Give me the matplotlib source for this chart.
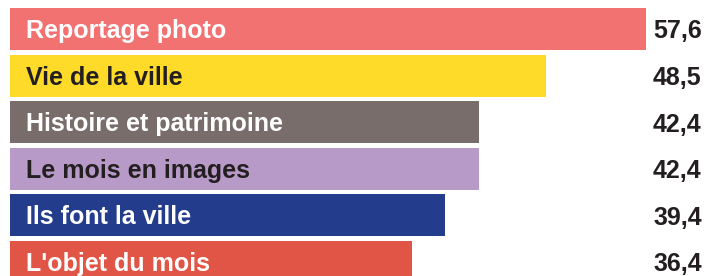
import matplotlib
matplotlib.use("Agg")
import matplotlib.pyplot as plt

categories = ["Reportage photo", "Vie de la ville", "Histoire et patrimoine",
              "Le mois en images", "Ils font la ville", "L'objet du mois"]
values = [57.6, 48.5, 42.4, 42.4, 39.4, 36.4]
value_labels = ["57,6", "48,5", "42,4", "42,4", "39,4", "36,4"]
bar_colors = ["#F27272", "#FDDB28", "#786D6A", "#B89AC8", "#233D8C", "#E05545"]
text_colors = ["white", "#231F20", "white", "#231F20", "white", "white"]

W, H = 705, 276
fig = plt.figure(figsize=(W / 100, H / 100), dpi=100)
ax = fig.add_axes([0, 0, 1, 1])
ax.set_axis_off()

scale = 11.05  # px per unit
ax.set_xlim(-10 / scale, (W - 10) / scale)
pitch = 46.6
ax.set_ylim(5 + 14 / pitch, -29 / pitch)

ys = list(range(len(values)))
ax.barh(ys, values, height=0.9, color=bar_colors, left=0)

font = "Liberation Sans"
for y, cat, tc, vl in zip(ys, categories, text_colors, value_labels):
    ax.annotate(cat, xy=(0, y), xytext=(11.5, -6.5), textcoords="offset points",
                ha="left", va="baseline", fontsize=18, fontweight="bold",
                color=tc, family=font)
    ax.annotate(vl, xy=(653 / W, y), xycoords=ax.get_yaxis_transform(),
                xytext=(0, -6.8), textcoords="offset points",
                ha="left", va="baseline", fontsize=18, fontweight="bold",
                color="#231F20", family=font)

fig.savefig("out.png", dpi=100)
